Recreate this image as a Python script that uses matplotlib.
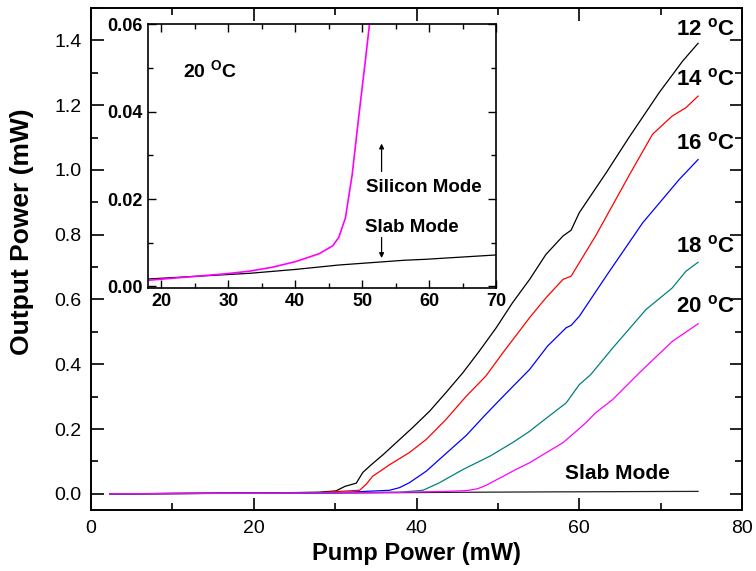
import numpy as np
import matplotlib
matplotlib.use('Agg')
import matplotlib.pyplot as plt
from matplotlib.ticker import MultipleLocator

plt.rcParams['font.family'] = ['Liberation Sans', 'DejaVu Sans']
plt.rcParams['mathtext.fontset'] = 'custom'
plt.rcParams['mathtext.rm'] = 'Liberation Sans'
plt.rcParams['mathtext.bf'] = 'Liberation Sans:bold'

# output power (mW) vs pump power (mW) for each heat-sink temperature
pump_12 = [2.3, 10, 20, 28, 30.1, 31.2, 32.6, 33.4, 34.4, 35.9, 37.5, 39.5, 41.6, 43.6, 45.7,
           47.7, 49.8, 51.8, 53.9, 55.9, 58.0, 59.0, 60.0, 63.3, 66.1, 69.8, 72.7, 74.6]
out_12 = [0.0, 0.001, 0.002, 0.005, 0.009, 0.023, 0.033, 0.066, 0.089, 0.121, 0.158, 0.204,
          0.255, 0.312, 0.374, 0.44, 0.513, 0.59, 0.662, 0.739, 0.796, 0.814, 0.868, 0.991,
          1.10, 1.238, 1.336, 1.391]

pump_14 = [2.3, 10, 20, 28, 33.0, 33.8, 34.6, 36.7, 39.1, 41.2, 43.6, 46.1, 48.5, 50.6, 53.9,
           55.9, 58.0, 59.0, 62.0, 66.3, 69.0, 71.4, 73.1, 74.6]
out_14 = [0.0, 0.001, 0.002, 0.004, 0.011, 0.029, 0.054, 0.090, 0.127, 0.168, 0.229, 0.301,
          0.363, 0.435, 0.544, 0.605, 0.662, 0.672, 0.796, 0.991, 1.11, 1.166, 1.192, 1.228]

pump_16 = [2.3, 10, 20, 30, 36.7, 37.9, 39.1, 41.2, 43.6, 46.1, 48.5, 51.0, 53.9, 56.1, 58.4,
           59.0, 60.0, 63.3, 67.8, 72.3, 74.6]
out_16 = [0.0, 0.001, 0.002, 0.003, 0.011, 0.019, 0.034, 0.070, 0.124, 0.18, 0.245, 0.31,
          0.384, 0.456, 0.513, 0.52, 0.548, 0.672, 0.837, 0.971, 1.032]

pump_18 = [2.3, 10, 20, 30, 38, 40.8, 42.8, 45.7, 49.0, 51.8, 53.9, 54.7, 58.4, 60.0, 61.4,
           64.1, 68.2, 71.4, 73.1, 74.6]
out_18 = [0.0, 0.001, 0.002, 0.003, 0.005, 0.011, 0.034, 0.075, 0.116, 0.158, 0.193, 0.209,
          0.281, 0.337, 0.368, 0.45, 0.569, 0.635, 0.687, 0.715]

pump_20 = [2.3, 10, 18, 29.7, 33.2, 36.6, 40.1, 43.6, 45.6, 46.5, 47.5, 48.5, 49.5, 50.5, 52.2,
           53.9, 58.0, 60.8, 62.0, 64.1, 67.4, 71.4, 74.6]
out_20 = [0.0, 0.0008, 0.0014, 0.0029, 0.0035, 0.0044, 0.0057, 0.0075, 0.0093, 0.0112, 0.0157,
          0.0255, 0.039, 0.052, 0.075, 0.096, 0.158, 0.219, 0.25, 0.291, 0.374, 0.47, 0.525]

pump_slab = [2.3, 18, 33.2, 40.1, 46.5, 56.4, 59.4, 70, 74.6]
out_slab = [0.0, 0.0017, 0.0030, 0.0039, 0.0049, 0.0060, 0.0062, 0.0072, 0.0075]

series = [
    (pump_12, out_12, 'black', '12'),
    (pump_14, out_14, '#ff0000', '14'),
    (pump_16, out_16, '#0000ff', '16'),
    (pump_18, out_18, '#008080', '18'),
    (pump_20, out_20, '#ff00ff', '20'),
]
label_pos = {'12': 1.416, '14': 1.26, '16': 1.063, '18': 0.746, '20': 0.559}

fig = plt.figure(figsize=(7.56, 5.71), dpi=100)
ax = fig.add_axes([0.1204, 0.1068, 0.8611, 0.8792])

ax.plot(pump_slab, out_slab, color='#222222', lw=0.9)
for x, y, c, t in series:
    ax.plot(x, y, color=c, lw=0.9)
    ax.text(79.1, label_pos[t], t + r' $^{\mathbf{o}}$C', ha='right', va='baseline',
            fontsize=16, fontweight='bold')
ax.text(58.2, 0.046, 'Slab Mode', fontsize=15, fontweight='bold')

ax.set_xlim(0, 80)
ax.set_ylim(-0.05, 1.5)
ax.xaxis.set_major_locator(MultipleLocator(20))
ax.xaxis.set_minor_locator(MultipleLocator(10))
ax.yaxis.set_major_locator(MultipleLocator(0.2))
ax.yaxis.set_minor_locator(MultipleLocator(0.1))
ax.set_yticks(np.arange(0, 1.41, 0.2))
ax.tick_params(which='both', direction='in', top=True, right=True, width=1.2, labelsize=14)
ax.tick_params(which='major', length=9, pad=7)
ax.tick_params(which='minor', length=5)
for s in ax.spines.values():
    s.set_linewidth(1.4)
ax.set_xlabel('Pump Power (mW)', fontsize=17, fontweight='bold', labelpad=4)
ax.set_ylabel('Output Power (mW)', fontsize=19, fontweight='bold')
ax.yaxis.set_label_coords(-0.088, 0.554)

# inset: threshold region at 20 C
ins = fig.add_axes([0.1958, 0.4961, 0.4603, 0.4613])
ins.plot(pump_slab, out_slab, color='black', lw=0.9)
ins.plot(pump_20, out_20, color='#ff00ff', lw=1.2)
ins.set_xlim(18, 70)
ins.set_ylim(-0.0003, 0.06)
ins.xaxis.set_major_locator(MultipleLocator(10))
ins.xaxis.set_minor_locator(MultipleLocator(5))
ins.yaxis.set_major_locator(MultipleLocator(0.02))
ins.yaxis.set_minor_locator(MultipleLocator(0.01))
ins.tick_params(which='both', direction='in', top=True, right=True, width=1.0, labelsize=13)
ins.tick_params(which='major', length=6, pad=4)
ins.tick_params(which='minor', length=3.5)
for lab in ins.get_xticklabels() + ins.get_yticklabels():
    lab.set_fontweight('bold')
for s in ins.spines.values():
    s.set_linewidth(1.2)

ins.text(23.2, 0.0476, r'20 $^{\mathbf{O}}$C', fontsize=14, fontweight='bold')
ins.text(50.6, 0.0216, 'Silicon Mode', fontsize=13.5, fontweight='bold')
ins.text(50.4, 0.0125, 'Slab Mode', fontsize=13.5, fontweight='bold')
arrow = dict(arrowstyle='-|>', lw=0.9, color='black', mutation_scale=7, shrinkA=0, shrinkB=0)
ins.annotate('', xy=(52.9, 0.0327), xytext=(52.9, 0.0263), arrowprops=arrow)
ins.annotate('', xy=(52.9, 0.0065), xytext=(52.9, 0.0112), arrowprops=arrow)

fig.savefig('out.png', dpi=100)
